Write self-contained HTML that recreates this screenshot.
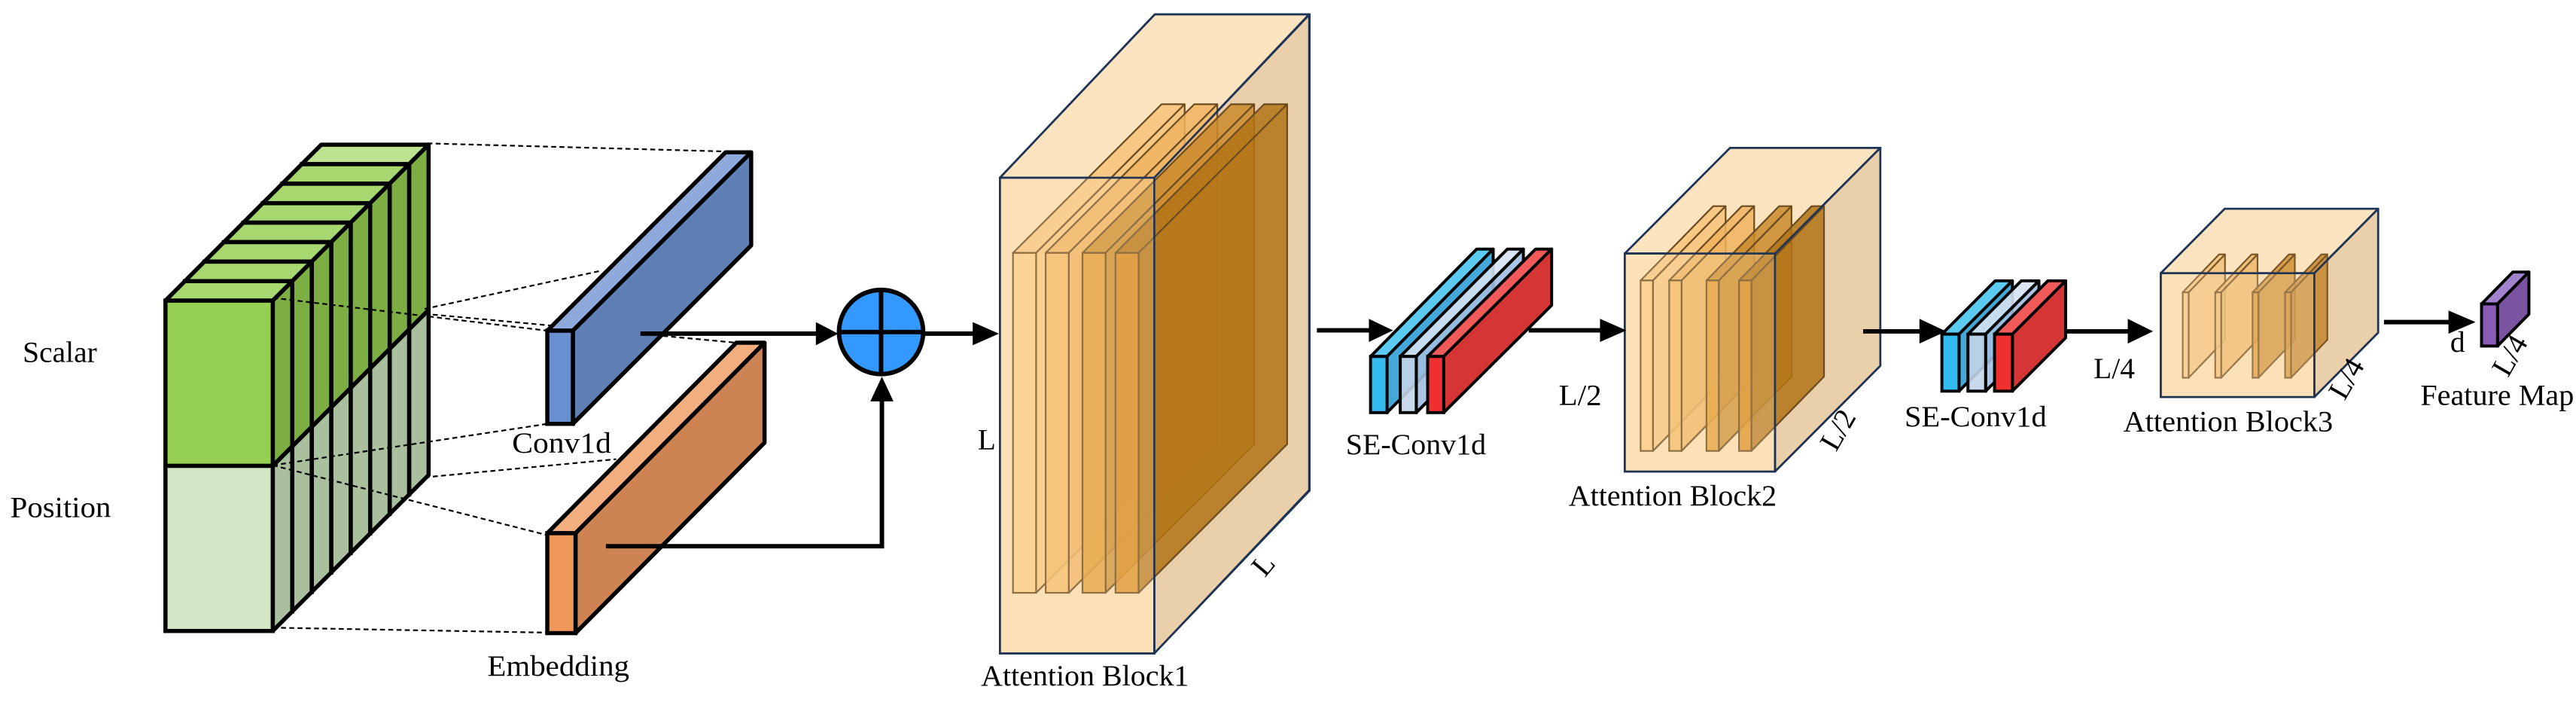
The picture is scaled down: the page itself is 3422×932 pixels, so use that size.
<!DOCTYPE html>
<html><head><meta charset="utf-8"><style>
html,body{margin:0;padding:0;background:#fff;}
svg{display:block;}
svg text{font-family:"Liberation Serif","DejaVu Serif",serif !important;font-size:18px;fill:#000;}
</style></head><body>
<svg id="s" width="3422" height="932" viewBox="0 0 1560 425" xmlns="http://www.w3.org/2000/svg" font-family="Liberation Serif, DejaVu Serif, serif">
<g id="g"></g>
<g fill="none" stroke="#000" stroke-width="1" stroke-dasharray="3,2">
<line x1="258.7" y1="86.8" x2="439.4" y2="91.7"/>
<line x1="165.2" y1="180.3" x2="331.3" y2="200.2"/>
<line x1="257" y1="187" x2="363.5" y2="164"/>
<line x1="257" y1="190" x2="446" y2="207.5"/>
<line x1="165" y1="281.7" x2="331.3" y2="256.6"/>
<line x1="257" y1="289" x2="373" y2="278"/>
<line x1="165" y1="281.7" x2="331.3" y2="324"/>
<line x1="165" y1="380" x2="331.3" y2="383"/>
</g>
<g id="g2"></g>
<g stroke="#000" stroke-width="2.7" fill="none">
<line x1="387.7" y1="202" x2="497" y2="202"/>
<line x1="559" y1="202" x2="592" y2="202"/>
<polyline points="366.8,330.7 534,330.7 534,240"/>
<line x1="797.5" y1="200" x2="832" y2="200"/>
<line x1="925.8" y1="200" x2="972" y2="200"/>
<line x1="1128.4" y1="200.6" x2="1165" y2="200.6"/>
<line x1="1251" y1="200.6" x2="1290" y2="200.6"/>
<line x1="1443.9" y1="195" x2="1485" y2="195"/>
</g>
<g fill="#000">
<polygon points="494,195 507.5,202 494,209"/>
<polygon points="589,195 604.9,202 589,209"/>
<polygon points="527,243 534,228 541,243"/>
<polygon points="829,193 843.6,200 829,207"/>
<polygon points="969,193 985,200 969,207"/>
<polygon points="1162.5,193 1178.6,200.6 1162.5,208"/>
<polygon points="1288.7,193 1304,200.6 1288.7,208"/>
<polygon points="1483,188 1499.4,195 1483,202"/>
</g>
<ellipse cx="533.5" cy="201" rx="25.5" ry="25.5" fill="#3399ff" stroke="#000" stroke-width="2.7"/>
<line x1="508" y1="201" x2="559" y2="201" stroke="#000" stroke-width="2.7"/>
<line x1="533.5" y1="175.5" x2="533.5" y2="226.5" stroke="#000" stroke-width="2.7"/>

<text x="13.5" y="219" textLength="45" lengthAdjust="spacingAndGlyphs">Scalar</text>
<text x="6" y="313" textLength="61" lengthAdjust="spacingAndGlyphs">Position</text>
<text x="310" y="274" textLength="60" lengthAdjust="spacingAndGlyphs">Conv1d</text>
<text x="295" y="409" textLength="86" lengthAdjust="spacingAndGlyphs">Embedding</text>
<text x="592" y="272">L</text>
<text transform="translate(766,350) rotate(-50)">L</text>
<text x="594" y="415" textLength="126" lengthAdjust="spacingAndGlyphs">Attention Block1</text>
<text x="815" y="275" textLength="85" lengthAdjust="spacingAndGlyphs">SE-Conv1d</text>
<text x="944" y="245" textLength="26" lengthAdjust="spacingAndGlyphs">L/2</text>
<text x="950" y="306" textLength="126" lengthAdjust="spacingAndGlyphs">Attention Block2</text>
<text transform="translate(1112,274) rotate(-60)">L/2</text>
<text x="1153.5" y="258" textLength="86" lengthAdjust="spacingAndGlyphs">SE-Conv1d</text>
<text x="1268" y="229" textLength="25" lengthAdjust="spacingAndGlyphs">L/4</text>
<text x="1286" y="261" textLength="127" lengthAdjust="spacingAndGlyphs">Attention Block3</text>
<text transform="translate(1420,243) rotate(-60)">L/4</text>
<text x="1484" y="213">d</text>
<text transform="translate(1519,229) rotate(-60)">L/4</text>
<text x="1466" y="245" textLength="93" lengthAdjust="spacingAndGlyphs">Feature Map</text>
</svg>
<script>
var NS="http://www.w3.org/2000/svg";
function el(p,t,a){var e=document.createElementNS(NS,t);for(var k in a)e.setAttribute(k,a[k]);p.appendChild(e);return e;}
function box(p,x,y,w,h,dx,dy,f,tp,sd,st,sw,op){
 var o=op||1;
 el(p,"polygon",{points:[x,y,x+w,y,x+w+dx,y-dy,x+dx,y-dy].join(","),fill:tp,stroke:st,"stroke-width":sw,"fill-opacity":o,"stroke-linejoin":"round"});
 el(p,"polygon",{points:[x+w,y,x+w+dx,y-dy,x+w+dx,y+h-dy,x+w,y+h].join(","),fill:sd,stroke:st,"stroke-width":sw,"fill-opacity":o,"stroke-linejoin":"round"});
 el(p,"rect",{x:x,y:y,width:w,height:h,fill:f,stroke:st,"stroke-width":sw,"fill-opacity":o});
}
var g=document.getElementById("g"),g2=document.getElementById("g2");
var t=11.8;
for(var i=7;i>=0;i--){var o=i*t;
 box(g,100+o,282-o,65,100,t,t,i==0?"#d2e6c5":"#c6dfb6","#a9cf86","#a9bf9d","#000",2.5);
 box(g,100+o,182-o,65,100,t,t,i==0?"#95d052":"#8fc94f",i==7?"#bce38f":"#a6d86f","#7cae44","#000",2.5);
}
box(g2,331.3,200.2,15.5,56.4,108,108,"#6a8fd0","#8eaadc","#5f7fb5","#000",2.5);
box(g2,331.3,322.8,17.1,60.5,114.5,115.3,"#f0985a","#f2ae7e","#cd8452","#000",2.5);
var B="#1f3354";
box(g2,605.5,107.6,93.5,288,93.8,98.9,"#fde1b8","#fde4c0","#ead0aa",B,1.2);
var s1=[[613.4,"#fccb7f","#f7c47a"],[633.2,"#f4bb63","#eeb35f"],[655.5,"#e09b30","#c98a2c"],[675.5,"#d98b1d","#b27416"]];
s1.forEach(function(s){box(g2,s[0],153.1,14,205.8,90,90,s[1],s[2],s[2],"#6b4b1f",1,0.85);});
el(g2,"rect",{x:605.5,y:107.6,width:93.5,height:288,fill:"#fde1b8","fill-opacity":0.25,stroke:B,"stroke-width":1.2});
el(g2,"polyline",{points:"605.5,107.6 699.3,8.7 793.1,8.7 793.1,297 699,395.6",fill:"none",stroke:B,"stroke-width":1.2});
el(g2,"line",{x1:699,y1:107.6,x2:793.1,y2:8.7,stroke:B,"stroke-width":1.2});
box(g2,830,215.8,10,34,64.3,65,"#33bbef","#5ccbf2","#44a8d8","#000",1.8);
box(g2,848,215.8,9.7,34,64.9,65,"#c4d4ea","#d6e2f2","#a0bfe0","#000",1.8,0.9);
box(g2,864.6,215.8,9.7,34,65.4,65,"#f03030","#f25a5a","#d63535","#000",1.8);
box(g2,984,153.5,91,132,63.8,64,"#fde1b8","#fde4c0","#ead0aa",B,1.2);
var s2=[[993.6,"#fccb7f","#f7c47a"],[1010.9,"#f4bb63","#eeb35f"],[1033.5,"#e09b30","#c98a2c"],[1053.2,"#d98b1d","#b27416"]];
s2.forEach(function(s){box(g2,s[0],169.8,7.5,103.2,44,45,s[1],s[2],s[2],"#6b4b1f",1,0.85);});
el(g2,"rect",{x:984,y:153.5,width:91,height:132,fill:"#fde1b8","fill-opacity":0.25,stroke:B,"stroke-width":1.2});
el(g2,"polyline",{points:"984,153.5 1047.8,89.5 1138.8,89.5 1138.8,221.5 1075,285.5",fill:"none",stroke:B,"stroke-width":1.2});
el(g2,"line",{x1:1075,y1:153.5,x2:1138.8,y2:89.5,stroke:B,"stroke-width":1.2});
box(g2,1176.1,202.3,10.4,34.5,32.3,32.3,"#33bbef","#5ccbf2","#44a8d8","#000",1.8);
box(g2,1191.9,202.3,10.7,34.5,32.3,32.3,"#c4d4ea","#d6e2f2","#a0bfe0","#000",1.8,0.9);
box(g2,1208,202.3,10.8,34.5,32.3,32.3,"#f03030","#f25a5a","#d63535","#000",1.8);
box(g2,1308.7,165.4,93,75,38.7,39,"#fde1b8","#fde4c0","#ead0aa",B,1.2);
var s3=[[1322,"#f5c98a","#f2c27e"],[1341.7,"#f0bf75","#ecb86c"],[1364.3,"#d9993a","#cc9036"],[1384,"#d49434","#c48630"]];
s3.forEach(function(s){box(g2,s[0],177,3.6,51.7,22,23,s[1],s[2],s[2],"#7a5526",1,0.85);});
el(g2,"rect",{x:1308.7,y:165.4,width:93,height:75,fill:"#fde1b8","fill-opacity":0.25,stroke:B,"stroke-width":1.2});
el(g2,"polyline",{points:"1308.7,165.4 1347.4,126.4 1440.4,126.4 1440.4,201.4 1401.7,240.4",fill:"none",stroke:B,"stroke-width":1.2});
el(g2,"line",{x1:1401.7,y1:165.4,x2:1440.4,y2:126.4,stroke:B,"stroke-width":1.2});
box(g2,1503,184,9.7,25.5,19,19.3,"#8a5cb5","#a182cc","#7a54a0","#000",1.8);
</script>
</body></html>
